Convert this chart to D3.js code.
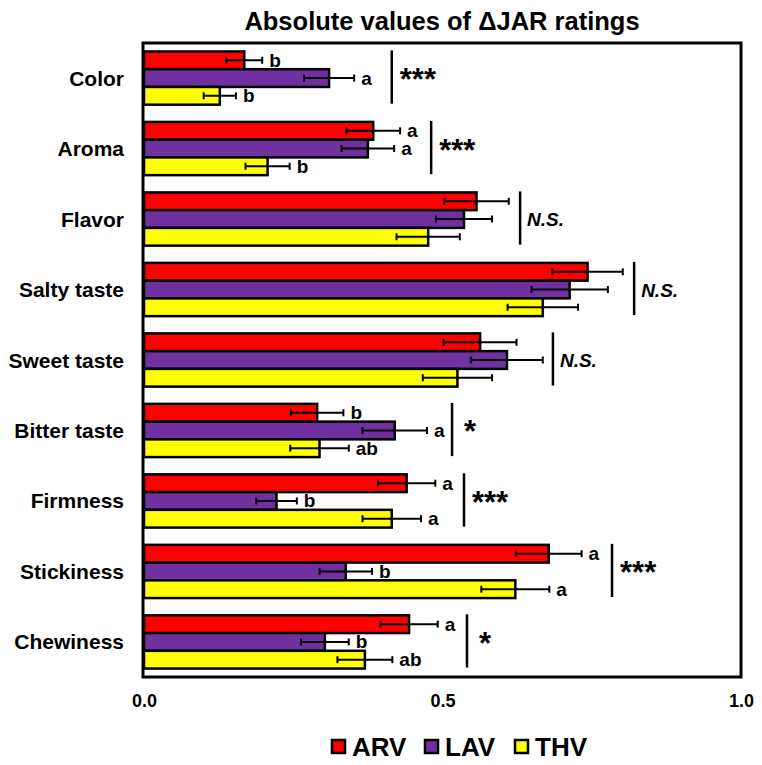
<!DOCTYPE html>
<html>
<head>
<meta charset="utf-8">
<script src="https://cdn.jsdelivr.net/npm/d3@7/dist/d3.min.js"></script>
<style>
  html, body { margin: 0; padding: 0; background: #fff; }
  svg { display: block; font-family: "Liberation Sans", Arial, sans-serif; font-weight: bold; }
</style>
</head>
<body>
<svg id="chart" width="762" height="765"></svg>
<script>
const categories = ["Color", "Aroma", "Flavor", "Salty taste", "Sweet taste", "Bitter taste", "Firmness", "Stickiness", "Chewiness"];
const seriesNames = ["ARV", "LAV", "THV"];
const seriesColors = ["#FF0000", "#7030A0", "#FFFF00"];
const arvValues = [0.168, 0.384, 0.557, 0.743, 0.563, 0.290, 0.440, 0.678, 0.444];
const lavValues = [0.310, 0.375, 0.536, 0.713, 0.608, 0.420, 0.222, 0.338, 0.303];
const thvValues = [0.127, 0.207, 0.476, 0.668, 0.525, 0.294, 0.415, 0.622, 0.370];
const arvErrors = [0.030, 0.045, 0.054, 0.059, 0.061, 0.044, 0.048, 0.055, 0.048];
const lavErrors = [0.042, 0.044, 0.047, 0.064, 0.060, 0.054, 0.034, 0.044, 0.040];
const thvErrors = [0.027, 0.037, 0.053, 0.059, 0.058, 0.049, 0.049, 0.057, 0.046];
const arvLetters = ["b", "a", "", "", "", "b", "a", "a", "a"];
const lavLetters = ["a", "a", "", "", "", "a", "b", "b", "b"];
const thvLetters = ["b", "b", "", "", "", "ab", "a", "a", "ab"];
const significance = ["***", "***", "N.S.", "N.S.", "N.S.", "*", "***", "***", "*"];
const sigLineX = [0.415, 0.481, 0.630, 0.821, 0.685, 0.516, 0.536, 0.784, 0.541];
const tickValues = [0, 0.5, 1.0];
const tickLabels = ["0.0", "0.5", "1.0"];
const title = "Absolute values of \u0394JAR ratings";

const values = [arvValues, lavValues, thvValues];
const errors = [arvErrors, lavErrors, thvErrors];
const letters = [arvLetters, lavLetters, thvLetters];

const svg = d3.select("#chart");
const plot = { left: 144, right: 741, top: 43, bottom: 677 };

const x = d3.scaleLinear().domain([0, 1]).range([plot.left, plot.right]);
const y = d3.scaleBand().domain(categories).range([plot.top, plot.bottom]).paddingInner(0.245).paddingOuter(0.12);
const ySub = d3.scaleBand().domain(seriesNames).range([0, y.bandwidth()]);

// Title
svg.append("text").attr("x", 442).attr("y", 30).attr("text-anchor", "middle")
  .attr("font-size", 25.5).text(title);

// Data rows
const rows = [];
categories.forEach((c, i) => {
  seriesNames.forEach((s, j) => {
    rows.push({ c, i, s, j, v: values[j][i], e: errors[j][i], l: letters[j][i] });
  });
});

const g = svg.append("g");
g.selectAll("rect.bar").data(rows).join("rect")
  .attr("class", "bar")
  .attr("x", x(0))
  .attr("y", d => y(d.c) + ySub(d.s))
  .attr("width", d => x(d.v) - x(0))
  .attr("height", ySub.bandwidth())
  .attr("fill", d => seriesColors[d.j])
  .attr("stroke", "#000").attr("stroke-width", 2.5);

// Error bars
const eb = g.selectAll("g.err").data(rows).join("g").attr("class", "err")
  .attr("transform", d => `translate(0,${y(d.c) + ySub(d.s) + ySub.bandwidth() / 2})`);
eb.append("line").attr("x1", d => x(d.v - d.e)).attr("x2", d => x(d.v + d.e))
  .attr("stroke", "#000").attr("stroke-width", 2);
eb.append("line").attr("x1", d => x(d.v - d.e)).attr("x2", d => x(d.v - d.e))
  .attr("y1", -3.5).attr("y2", 3.5).attr("stroke", "#000").attr("stroke-width", 2);
eb.append("line").attr("x1", d => x(d.v + d.e)).attr("x2", d => x(d.v + d.e))
  .attr("y1", -3.5).attr("y2", 3.5).attr("stroke", "#000").attr("stroke-width", 2);
eb.filter(d => d.l).append("text")
  .attr("x", d => x(d.v + d.e) + 7).attr("y", 6.5)
  .attr("font-size", 19).text(d => d.l);

// Significance lines and labels
categories.forEach((c, i) => {
  const lx = x(sigLineX[i]);
  svg.append("line").attr("x1", lx).attr("x2", lx)
    .attr("y1", y(c) - 1).attr("y2", y(c) + y.bandwidth() - 1)
    .attr("stroke", "#000").attr("stroke-width", 2.5);
  const s = significance[i];
  const cy = y(c) + y.bandwidth() / 2;
  if (s === "N.S.") {
    svg.append("text").attr("x", lx + 7).attr("y", cy + 7)
      .attr("font-size", 19).attr("font-style", "italic").text(s);
  } else {
    svg.append("text").attr("x", lx + (s.length > 1 ? 8 : 12)).attr("y", cy + 12)
      .attr("font-size", 31).text(s);
  }
});

// Category labels
svg.selectAll("text.cat").data(categories).join("text")
  .attr("class", "cat")
  .attr("x", 124).attr("y", d => y(d) + y.bandwidth() / 2 + 7.5)
  .attr("text-anchor", "end").attr("font-size", 21).text(d => d);

// Plot frame
svg.append("rect").attr("x", plot.left - 1).attr("y", plot.top)
  .attr("width", plot.right - plot.left + 1).attr("height", plot.bottom - plot.top)
  .attr("fill", "none").attr("stroke", "#000").attr("stroke-width", 3);

// X axis (labels only)
const xAxis = d3.axisBottom(x).tickValues(tickValues).tickSize(0).tickPadding(0)
  .tickFormat((d, i) => tickLabels[i]);
const ax = svg.append("g").attr("transform", `translate(0,${plot.bottom})`).call(xAxis);
ax.select(".domain").remove();
ax.selectAll("text").attr("font-size", 18).attr("font-weight", "bold")
  .attr("font-family", "Liberation Sans, Arial, sans-serif").attr("fill", "#000")
  .attr("dy", null).attr("y", 29.5);

// Legend
const legendX = [332, 425, 515];
seriesNames.forEach((s, j) => {
  svg.append("rect").attr("x", legendX[j]).attr("y", 740).attr("width", 13).attr("height", 13)
    .attr("fill", seriesColors[j]).attr("stroke", "#000").attr("stroke-width", 2.5);
  svg.append("text").attr("x", legendX[j] + 20).attr("y", 755.5)
    .attr("font-size", 26).text(s);
});
</script>
</body>
</html>
